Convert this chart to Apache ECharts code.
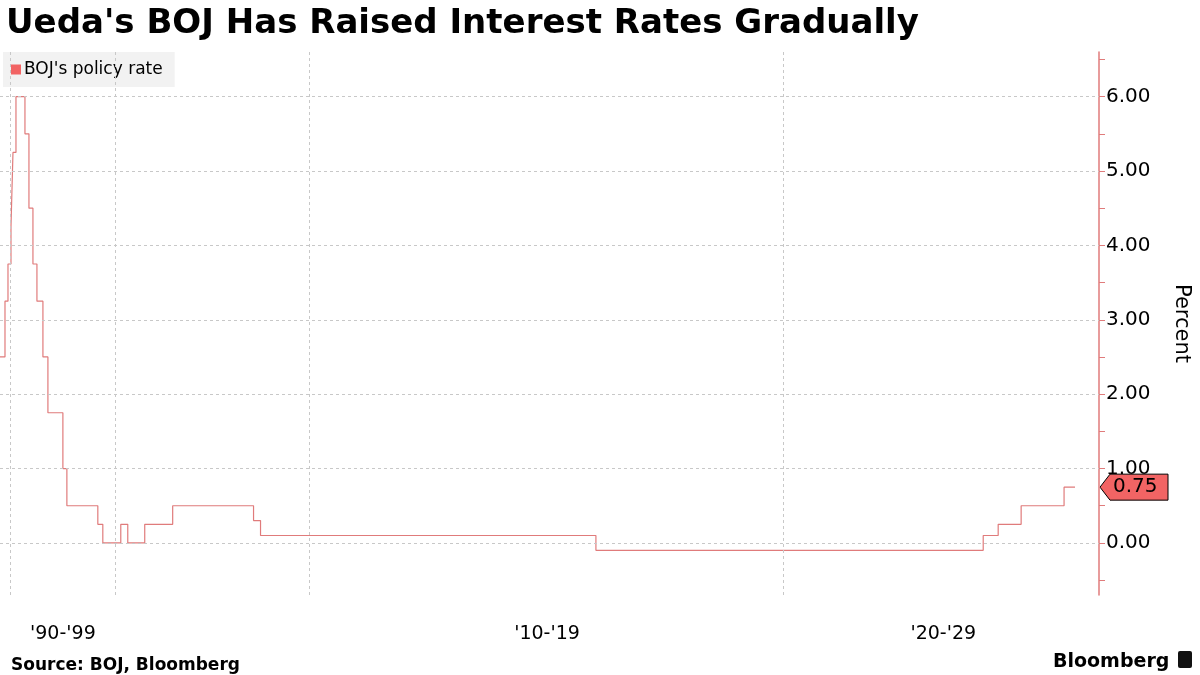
<!DOCTYPE html>
<html>
<head>
<meta charset="utf-8">
<script src="https://cdn.jsdelivr.net/npm/echarts@6/dist/echarts.min.js"></script>
<style>
  html, body { margin: 0; padding: 0; background: #fff; }
  #main { width: 1200px; height: 675px; }
</style>
</head>
<body>
<div id="main"></div>
<script>
// x is the chart's own observation scale (irregular, as in the source chart)
var obsPos = [0, 5, 8, 11, 13, 16, 25, 29, 33, 37, 43, 48, 63, 67, 98, 103, 121, 128, 145, 173, 254, 261, 597, 985, 1000, 1023, 1066, 1077];
var rates  = [2.5, 3.25, 3.75, 4.25, 5.25, 6.0, 5.5, 4.5, 3.75, 3.25, 2.5, 1.75, 1.0, 0.5, 0.25, 0.0, 0.25, 0.0, 0.25, 0.5, 0.3, 0.1, -0.1, 0.1, 0.25, 0.5, 0.75, 0.75];
var decadeLines = [10, 115, 310, 785];
var decadeLabelPos = [63, 548, 945];
var decadeLabels = ["'90-'99", "'10-'19", "'20-'29"];
var yTicks = [0, 1, 2, 3, 4, 5, 6];
var lastRate = 0.75;

var lineColor = '#e07b7b';
var seriesData = obsPos.map(function (x, i) { return [x, rates[i]]; });

var chart = echarts.init(document.getElementById('main'));
var option = {
  backgroundColor: '#fff',
  animation: false,
  title: [{
    text: "Ueda's BOJ Has Raised Interest Rates Gradually",
    left: 1, top: 2,
    textStyle: { fontFamily: 'DejaVu Sans', fontWeight: 'bold', fontSize: 34, color: '#000' }
  }, {
    text: 'Source: BOJ, Bloomberg',
    left: 6, top: 652,
    textStyle: { fontFamily: 'DejaVu Sans', fontWeight: 'bold', fontSize: 17, color: '#000' }
  }, {
    text: 'Bloomberg',
    left: 1048, top: 648,
    textStyle: { fontFamily: 'DejaVu Sans', fontWeight: 'bold', fontSize: 19, color: '#000' }
  }],
  legend: {
    left: 3, top: 52, padding: [9, 12, 9, 8],
    backgroundColor: '#f2f2f2',
    itemWidth: 10, itemHeight: 10, itemGap: 4,
    icon: 'rect',
    textStyle: { fontFamily: 'DejaVu Sans', fontSize: 17, color: '#000', padding: [0, 0, 0, -2] },
    data: [{ name: "BOJ's policy rate", itemStyle: { color: '#f26464' } }]
  },
  grid: { left: 0, right: 99, top: 52, bottom: 80 },
  xAxis: {
    type: 'value', min: 0, max: 1101,
    axisLine: { show: false }, axisTick: { show: false }, splitLine: { show: false },
    axisLabel: {
      customValues: decadeLabelPos, margin: 30,
      fontFamily: 'DejaVu Sans', fontSize: 19, color: '#000',
      formatter: function (v) { return decadeLabels[decadeLabelPos.indexOf(v)] || ''; }
    }
  },
  yAxis: {
    type: 'value', position: 'right', min: -0.7, max: 6.6,
    name: 'Percent', nameLocation: 'middle', nameRotate: -90, nameGap: 72,
    nameTextStyle: { fontFamily: 'DejaVu Sans', fontSize: 21, color: '#000' },
    axisLine: { show: true, onZero: false, lineStyle: { color: lineColor, width: 1.5 } },
    axisTick: { show: true, inside: false, length: 6, lineStyle: { color: lineColor },
      customValues: [-0.5, 0, 0.5, 1, 1.5, 2, 2.5, 3, 3.5, 4, 4.5, 5, 5.5, 6, 6.5] },
    splitLine: { show: false },
    axisLabel: {
      customValues: yTicks, margin: 7,
      fontFamily: 'DejaVu Sans', fontSize: 20, color: '#000',
      formatter: function (v) { return v.toFixed(2); }
    }
  },
  series: [{
    name: "BOJ's policy rate",
    type: 'line', step: 'end', symbol: 'none',
    lineStyle: { color: lineColor, width: 1.2 },
    itemStyle: { color: '#f26464' },
    data: seriesData,
    markLine: {
      silent: true, symbol: 'none', label: { show: false },
      lineStyle: { color: '#c8c8c8', type: [3, 3], width: 1 },
      data: decadeLines.map(function (x) { return [{ coord: [x, -0.7] }, { coord: [x, 6.6] }]; })
        .concat(yTicks.map(function (y) { return [{ coord: [0, y] }, { coord: [1101, y] }]; }))
    }
  }]
};
chart.setOption(option);

// last value tag on the right axis
var p = chart.convertToPixel({ xAxisIndex: 0, yAxisIndex: 0 }, [1101, lastRate]);
var tx = p[0] + 1, ty = p[1], h = 26, w = 68;
chart.setOption({
  graphic: [{
    type: 'polygon',
    shape: { points: [[tx, ty], [tx + 10, ty - h / 2], [tx + w, ty - h / 2], [tx + w, ty + h / 2], [tx + 10, ty + h / 2]] },
    style: { fill: '#f26464', stroke: '#000', lineWidth: 1 }
  }, {
    type: 'text', x: tx + 13, y: ty,
    style: { text: lastRate.toFixed(2), font: '20px DejaVu Sans', fill: '#000', textVerticalAlign: 'middle' }
  }, {
    type: 'rect', shape: { x: 1178, y: 651, width: 14, height: 17, r: 2 },
    style: { fill: '#111' }
  }]
});
</script>
</body>
</html>
